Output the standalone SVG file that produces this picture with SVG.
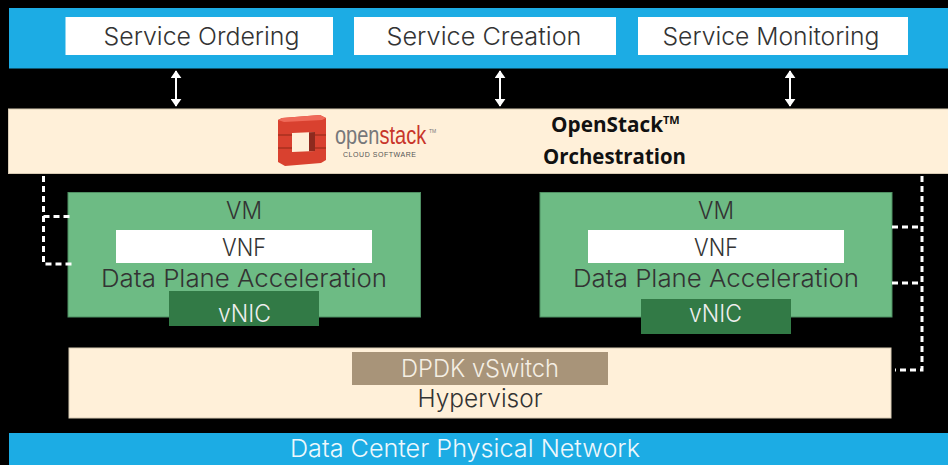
<svg xmlns="http://www.w3.org/2000/svg" width="948" height="465" viewBox="0 0 948 465">
<style>
.t{font-family:"Inter","Noto Sans",sans-serif;font-weight:300;fill:#333;text-anchor:middle}
.m{font-size:24px}
.b{font-family:"Open Sans",sans-serif;font-weight:700;font-size:21px;fill:#111}
.lg{font-family:"Liberation Sans",sans-serif}
.d{fill:none;stroke:#fff;stroke-width:3;stroke-dasharray:6 4}
.a{fill:none;stroke:#fff;stroke-width:2;marker-start:url(#h);marker-end:url(#h)}
.g{fill:#6dbb84;stroke:#4f8f63;stroke-width:1}.dg{fill:#327a46}.c{fill:#fff0d9;stroke:#d8cbb4;stroke-width:1}.bl{fill:#1cace4}.w{fill:#fff}
</style>
<defs><marker id="h" viewBox="0 0 10 12" refX="9" refY="6" markerWidth="8" markerHeight="11" markerUnits="userSpaceOnUse" orient="auto-start-reverse" preserveAspectRatio="none"><path d="M0 0L10 6L0 12Z" fill="#fff"/></marker></defs>
<rect width="948" height="465" fill="#000"/>
<g id="management-bar">
<rect class="bl" x="9" y="8" width="939" height="60.500"/>
</g>
<g id="service-ordering"><rect class="w" x="65.500" y="17" width="267.500" height="38"/><text class="t m" x="201.500" y="45" textLength="196" lengthAdjust="spacingAndGlyphs">Service Ordering</text></g>
<g id="service-creation"><rect class="w" x="354" y="17" width="262" height="38"/><text class="t m" x="484" y="45" textLength="195" lengthAdjust="spacingAndGlyphs">Service Creation</text></g>
<g id="service-monitoring"><rect class="w" x="638" y="17" width="270" height="38"/><text class="t m" x="771" y="45" textLength="217" lengthAdjust="spacingAndGlyphs">Service Monitoring</text></g>
<g id="openstack-orchestration">
<rect class="c" x="8.500" y="109" width="940" height="64.500"/>
<path d="M278 120L282 118L320 115L326 118V160L321 163L285 166L278 162Z" fill="#d9412f"/>
<path d="M282 118L320 115L326 118L322 120L284 122L278 120Z" fill="#ef6a59"/>
<path d="M292 133L315 132V151L292 152Z" fill="#fff0d9"/>
<path d="M309 132.300L315 132V151L309 151.300Z" fill="#8e2a1e"/>
<path d="M278 135H292M278 148H292M315 135H326M315 148H326" stroke="#a8301f" stroke-width="1.500" fill="none"/>
<text class="lg" transform="translate(335 144) scale(.8 1)" font-size="25"><tspan fill="#77787b">open</tspan><tspan fill="#c8352a">stack</tspan></text>
<text class="lg" x="429" y="133" font-size="5" fill="#77787b">TM</text>
<text class="lg" x="343" y="157" font-size="7" fill="#555" textLength="73" lengthAdjust="spacing">CLOUD SOFTWARE</text>
<text class="b" x="551" y="132" textLength="112" lengthAdjust="spacingAndGlyphs">OpenStack</text>
<text class="b" x="663" y="124" style="font-size:11px">TM</text>
<text class="b" x="543" y="164" textLength="143" lengthAdjust="spacingAndGlyphs">Orchestration</text>
</g>
<g id="vm-left">
<rect class="g" x="68" y="192.500" width="352.500" height="124.500"/>
<text class="t m" x="244" y="219" textLength="36" lengthAdjust="spacingAndGlyphs">VM</text>
<rect class="w" x="116" y="230" width="256" height="33"/>
<text class="t m" x="244" y="256" textLength="44" lengthAdjust="spacingAndGlyphs">VNF</text>
<text class="t m" x="244" y="287" textLength="286" lengthAdjust="spacingAndGlyphs">Data Plane Acceleration</text>
<rect class="dg" x="169" y="291" width="150" height="35"/>
<text class="t m" x="244.500" y="322" textLength="53" lengthAdjust="spacingAndGlyphs" style="fill:#eee">vNIC</text>
</g>
<g id="vm-right">
<rect class="g" x="540" y="192.500" width="352" height="124.500"/>
<text class="t m" x="716" y="219" textLength="36" lengthAdjust="spacingAndGlyphs">VM</text>
<rect class="w" x="588" y="230" width="256" height="33"/>
<text class="t m" x="716" y="256" textLength="44" lengthAdjust="spacingAndGlyphs">VNF</text>
<text class="t m" x="716" y="287" textLength="286" lengthAdjust="spacingAndGlyphs">Data Plane Acceleration</text>
<rect class="dg" x="641" y="299" width="150" height="35"/>
<text class="t m" x="715.500" y="322" textLength="53" lengthAdjust="spacingAndGlyphs" style="fill:#eee">vNIC</text>
</g>
<g id="hypervisor">
<rect class="c" x="69" y="348" width="822" height="70"/>
<rect x="352" y="352" width="256" height="33" fill="#a89479"/>
<text class="t m" x="480" y="377" textLength="158" lengthAdjust="spacingAndGlyphs" style="fill:#f5efe4">DPDK vSwitch</text>
<text class="t m" x="480" y="407" textLength="125" lengthAdjust="spacingAndGlyphs">Hypervisor</text>
</g>
<g id="data-center-network">
<rect class="bl" x="9" y="433" width="939" height="32"/>
<text class="t m" x="465" y="457" textLength="350" lengthAdjust="spacingAndGlyphs" style="fill:#eef8fc">Data Center Physical Network</text>
</g>
<g id="connectors">
<path class="a" d="M176 71V106"/>
<path class="a" d="M500 71V106"/>
<path class="a" d="M790 71V106"/>
<path class="d" d="M43.500 176V264H72"/>
<path class="d" d="M43.500 216.500H72"/>
<path class="d" d="M922 176V370H895"/>
<path class="d" d="M892 227H922"/>
<path class="d" d="M892 283H922"/>
</g>
</svg>
